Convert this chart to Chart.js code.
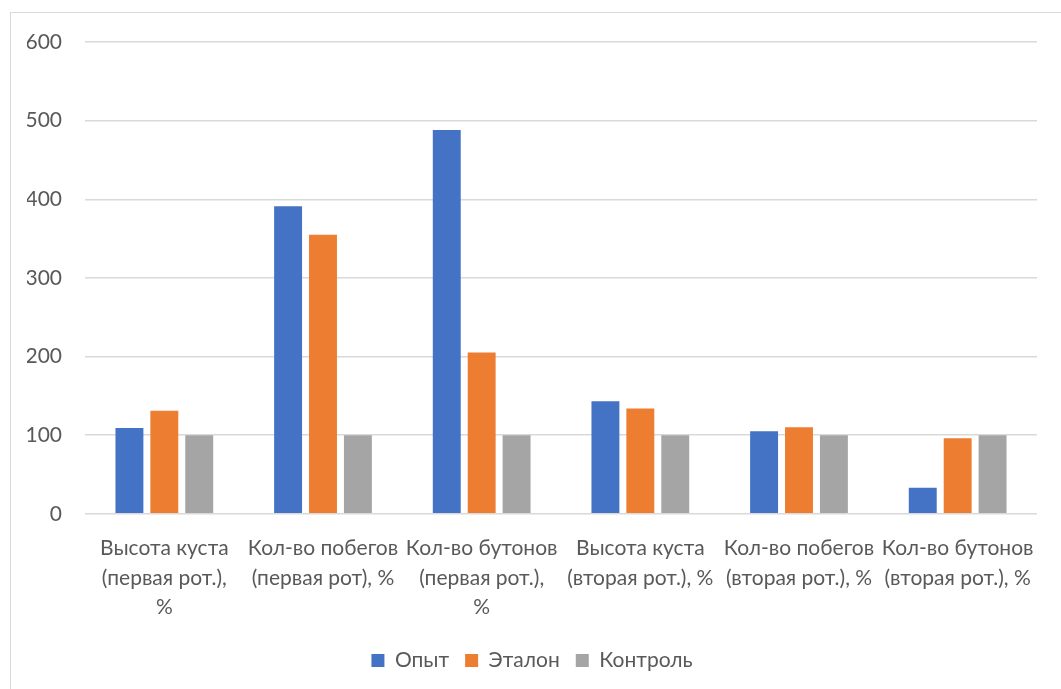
<!DOCTYPE html>
<html>
<head>
<meta charset="utf-8">
<script src="https://cdn.jsdelivr.net/npm/chart.js@4"></script>
<style>
    html, body { margin: 0; padding: 0; background: #fff; overflow: hidden; }
    #wrap {
        position: absolute; left: 10px; top: 12px;
        width: 1051px; height: 677px;
        border-left: 1px solid #d9d9d9; border-top: 1px solid #d9d9d9;
        box-sizing: border-box;
    }
</style>
</head>
<body>
<div id="wrap"><canvas id="chart"></canvas></div>
<script>
var categories = [
    ['Высота куста', '(первая рот.),', '%'],
    ['Кол-во побегов', '(первая рот), %'],
    ['Кол-во бутонов', '(первая рот.),', '%'],
    ['Высота куста', '(вторая рот.), %'],
    ['Кол-во побегов', '(вторая рот.), %'],
    ['Кол-во бутонов', '(вторая рот.), %']
];
var opytValues = [109, 391, 488, 143, 105, 33];
var etalonValues = [131, 355, 205, 134, 110, 96];
var controlValues = [100, 100, 100, 100, 100, 100];
var yTicks = [0, 100, 200, 300, 400, 500, 600];

var font = 'Lato, "Open Sans", sans-serif';

var ctx = document.getElementById('chart').getContext('2d');
var chart = new Chart(ctx, {
    type: 'bar',
    data: {
        labels: categories,
        datasets: [
            { label: 'Опыт', data: opytValues, backgroundColor: '#4472C4' },
            { label: 'Эталон', data: etalonValues, backgroundColor: '#ED7D31' },
            { label: 'Контроль', data: controlValues, backgroundColor: '#A5A5A5' }
        ]
    },
    options: {
        responsive: true,
        maintainAspectRatio: false,
        animation: false,
        categoryPercentage: 0.66,
        barPercentage: 0.8,
        layout: { padding: { left: 16, right: 24, top: 29, bottom: 8 } },
        plugins: {
            tooltip: { enabled: false },
            legend: {
                position: 'bottom',
                labels: {
                    boxWidth: 13, boxHeight: 13,
                    color: '#595959',
                    font: { family: font, size: 21 },
                    padding: 16
                }
            }
        },
        scales: {
            x: {
                grid: { display: false },
                border: { display: false },
                ticks: {
                    color: '#595959',
                    font: { family: font, size: 21, lineHeight: 1.4 },
                    maxRotation: 0,
                    autoSkip: false,
                    padding: 12
                }
            },
            y: {
                min: 0, max: 600,
                afterBuildTicks: function(axis) {
                    axis.ticks = yTicks.map(function(v) { return { value: v }; });
                },
                afterFit: function(axis) {
                    axis.width = 58;
                    axis.paddingTop = 0;
                    axis.paddingBottom = 0;
                },
                grid: { color: '#D9D9D9', lineWidth: 1.5, drawTicks: false },
                border: { display: false },
                ticks: {
                    color: '#595959',
                    font: { family: font, size: 21 },
                    padding: 23
                }
            }
        }
    }
});
</script>
</body>
</html>
